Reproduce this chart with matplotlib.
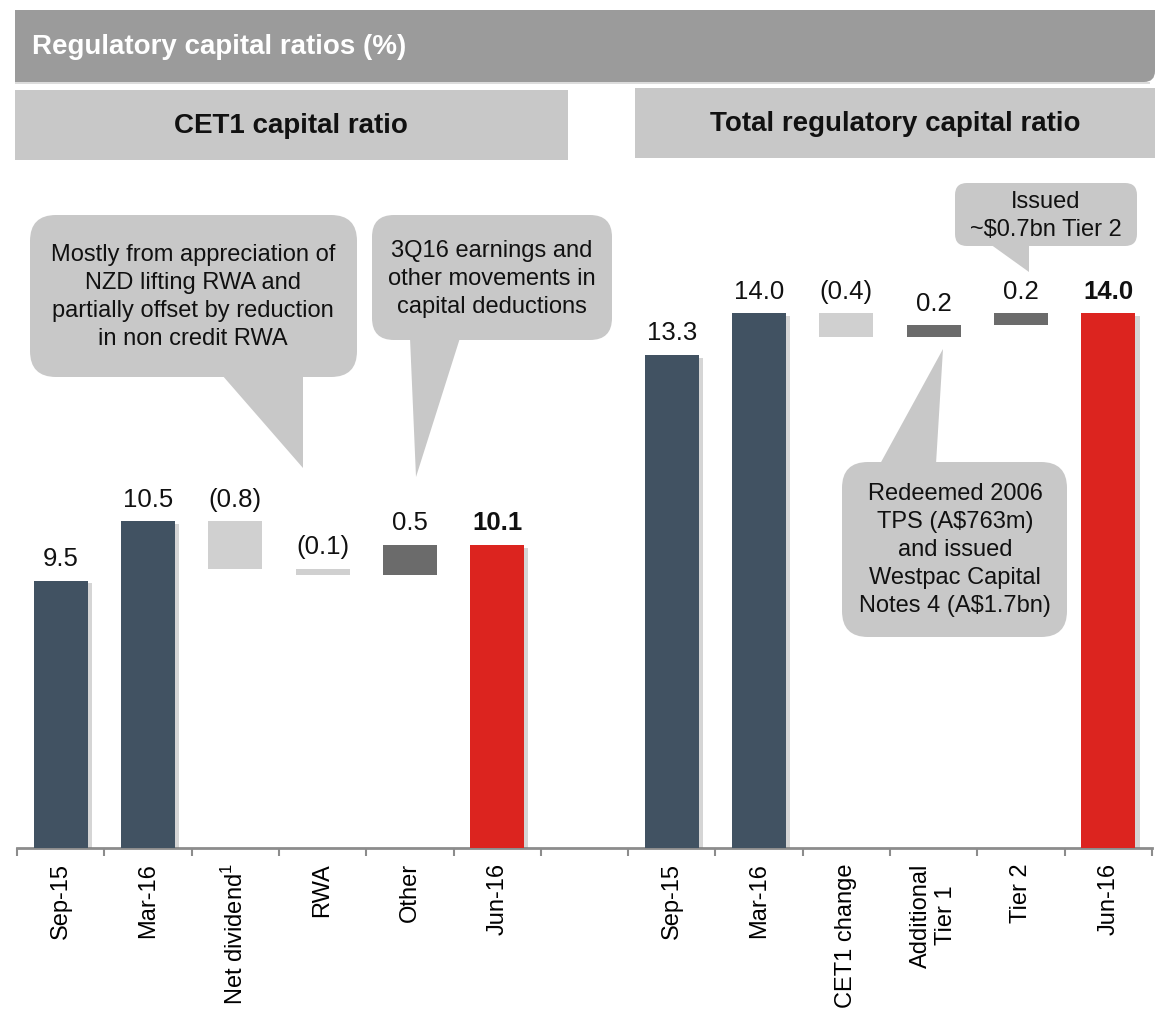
import matplotlib
matplotlib.use('Agg')
import matplotlib.pyplot as plt
from matplotlib.patches import FancyBboxPatch, Polygon, Rectangle
import matplotlib.patheffects as pe

plt.rcParams['font.family'] = ['Liberation Sans', 'DejaVu Sans']
plt.rcParams['mathtext.fontset'] = 'custom'
plt.rcParams['mathtext.rm'] = 'Liberation Sans'

# ---------------- data ----------------
cet1_labels = ['Sep-15', 'Mar-16', 'Net dividend$^{1}$', 'RWA', 'Other', 'Jun-16']
cet1_values = [9.5, 10.5, -0.8, -0.1, 0.5, 10.1]
cet1_kinds = ['total', 'total', 'delta', 'delta', 'delta', 'final']

total_labels = ['Sep-15', 'Mar-16', 'CET1 change', 'Additional\nTier 1', 'Tier 2', 'Jun-16']
total_values = [13.3, 14.0, -0.4, 0.2, 0.2, 14.0]
total_kinds = ['total', 'total', 'delta', 'delta', 'delta', 'final']

title = 'Regulatory capital ratios (%)'
left_header = 'CET1 capital ratio'
right_header = 'Total regulatory capital ratio'
notes = [
    'Mostly from appreciation of\nNZD lifting RWA and\npartially offset by reduction\nin non credit RWA',
    '3Q16 earnings and\nother movements in\ncapital deductions',
    'Issued\n~$0.7bn Tier 2',
    'Redeemed 2006\nTPS (A$763m)\nand issued\nWestpac Capital\nNotes 4 (A$1.7bn)',
]

# ---------------- style ----------------
W, H = 1155, 1009
C_TOTAL = '#415262'
C_FINAL = '#dc241f'
C_NEG = '#d0d0d0'
C_POS = '#6b6b6b'
C_BUBBLE = '#c8c8c8'
C_AXIS = '#8c8c8c'
VAL_FS = 18.5
TICK_FS = 17
NOTE_FS = 17
HEAD_FS = 20

fig = plt.figure(figsize=(W / 100, H / 100), dpi=100)

# data axes geometry (pixels)
x0_px, x1_px = 17, 1152
base_px, top_px = 848, 160
ax = fig.add_axes([x0_px / W, 1 - base_px / H, (x1_px - x0_px) / W, (base_px - top_px) / H])
ax.set_facecolor('none')
ymin = 5.0
px_per_unit = 59.4
ax.set_ylim(ymin, ymin + (base_px - top_px) / px_per_unit)
ax.set_xlim(-0.5, 12.5)

shadow = [pe.SimplePatchShadow(offset=(3, -2), shadow_rgbFace='#777777', alpha=0.3), pe.Normal()]


def draw_group(values, kinds, offset):
    running = 0.0
    for i, (v, k) in enumerate(zip(values, kinds)):
        x = offset + i
        if k in ('total', 'final'):
            bottom, height = 0, v
            color = C_FINAL if k == 'final' else C_TOTAL
            running = v
            top = v
            txt = f'{v:.1f}'
            weight = 'bold' if k == 'final' else 'normal'
            eff = shadow
        else:
            bottom = min(running, running + v)
            height = abs(v)
            color = C_NEG if v < 0 else C_POS
            top = max(running, running + v)
            running += v
            txt = f'({abs(v):.1f})' if v < 0 else f'{v:.1f}'
            weight = 'normal'
            eff = None
        bars = ax.bar(x, height, bottom=bottom, width=0.62, color=color, zorder=3)
        if eff:
            for b in bars:
                b.set_path_effects(eff)
        ax.annotate(txt, (x, top), xytext=(0, 7), textcoords='offset points',
                    ha='center', va='bottom', fontsize=VAL_FS, fontweight=weight,
                    color='#111111', zorder=5)


draw_group(cet1_values, cet1_kinds, 0)
draw_group(total_values, total_kinds, 7)

for s in ['top', 'right', 'left']:
    ax.spines[s].set_visible(False)
ax.spines['bottom'].set_color(C_AXIS)
ax.spines['bottom'].set_linewidth(2)
ax.set_yticks([])
ax.set_xticks([i - 0.5 for i in range(14)])
ax.set_xticklabels([])
ax.tick_params(axis='x', which='major', direction='out', length=6, width=1.5, color=C_AXIS)
centers = list(range(6)) + list(range(7, 13))
ax.set_xticks(centers, minor=True)
ax.set_xticklabels(cet1_labels + total_labels, minor=True, rotation=90,
                   fontsize=TICK_FS, va='top', ha='center', multialignment='center')
ax.tick_params(axis='x', which='minor', length=0, pad=11)

# ---------------- overlay (pixel coordinates) ----------------
ov = fig.add_axes([0, 0, 1, 1], zorder=10)
ov.set_xlim(0, W)
ov.set_ylim(H, 0)
ov.axis('off')
ov.patch.set_alpha(0)

HEAD = '#9b9b9b'
ov.add_patch(Rectangle((15, 82), 1135, 2, fc='#dcdcdc', ec='none'))
ov.add_patch(FancyBboxPatch((15, 10), 1140, 72, boxstyle='round,pad=0,rounding_size=11',
                            fc=HEAD, ec='none'))
ov.add_patch(Rectangle((15, 10), 1140, 40, fc=HEAD, ec='none'))
ov.add_patch(Rectangle((15, 10), 40, 72, fc=HEAD, ec='none'))
ov.text(32, 47, title, color='white', fontsize=HEAD_FS, fontweight='bold', va='center', ha='left')

ov.add_patch(Rectangle((15, 90), 553, 70, fc=C_BUBBLE, ec='none'))
ov.add_patch(Rectangle((635, 88), 520, 70, fc=C_BUBBLE, ec='none'))
ov.text(291, 126, left_header, fontsize=HEAD_FS, fontweight='bold', ha='center', va='center', color='#111111')
ov.text(895, 124, right_header, fontsize=HEAD_FS, fontweight='bold', ha='center', va='center', color='#111111')


def bubble(x0, y0, x1, y1, r, tail, text, tx, ty):
    ov.add_patch(FancyBboxPatch((x0, y0), x1 - x0, y1 - y0,
                                boxstyle=f'round,pad=0,rounding_size={r}', fc=C_BUBBLE, ec='none'))
    ov.add_patch(Polygon(tail, closed=True, fc=C_BUBBLE, ec='none'))
    ov.text(tx, ty, text, fontsize=NOTE_FS, ha='center', va='center', multialignment='center',
            color='#111111', linespacing=1.36)


bubble(30, 215, 357, 377, 26, [(222, 375), (303, 375), (303, 468)], notes[0], 193, 297)
bubble(372, 215, 612, 340, 22, [(410, 338), (460, 338), (416, 477)], notes[1], 492, 279)
bubble(955, 183, 1137, 246, 12, [(990, 244), (1029, 244), (1029, 272)], notes[2], 1046, 216)
bubble(842, 462, 1067, 637, 26, [(880, 464), (936, 464), (943, 349)], notes[3], 955, 550)

fig.savefig('out.png', dpi=100)
